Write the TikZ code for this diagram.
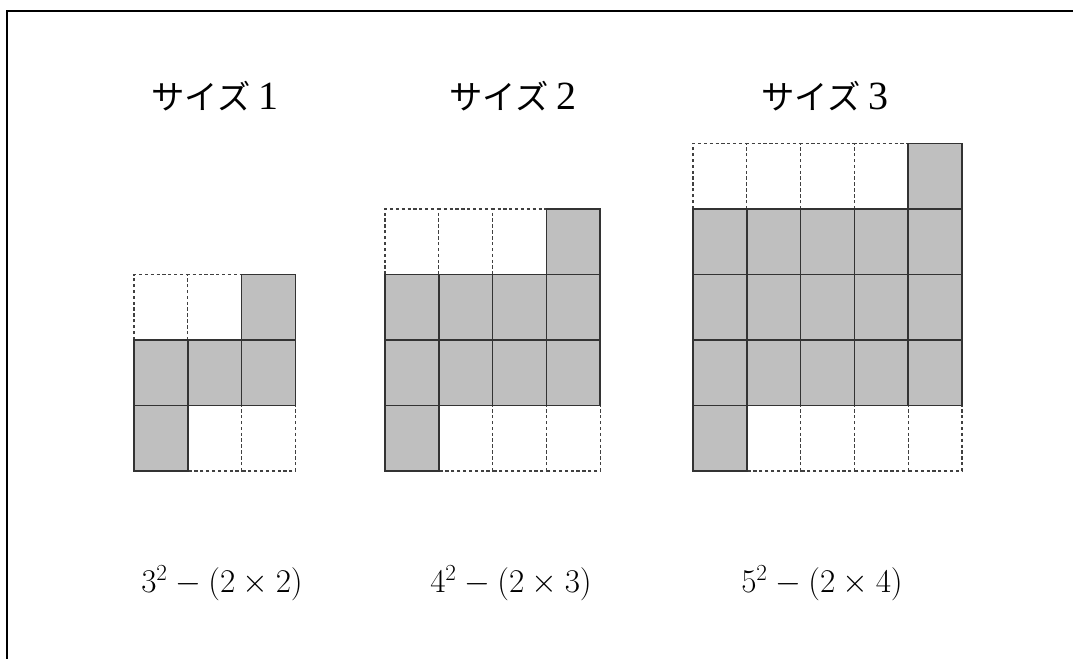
\documentclass[tikz,border=0pt]{standalone}
\usepackage{fontspec}
\usepackage{xcolor}
\usepackage{tikz}
\usetikzlibrary{positioning,calc}
\newfontfamily\jpfont{Noto Sans CJK JP}
\newfontfamily\numfont[Scale=1.2]{Liberation Serif}

\tikzset{
  fullcell/.style={fill=lightgray,draw=black!80,line width=1.2pt},
  emptycell/.style={draw=black!75,line width=1pt,dash pattern=on 2.4pt off 2pt},
  sizetitle/.style={font=\fontsize{25}{30}\selectfont},
  formula/.style={font=\fontsize{24}{28}\selectfont}
}

\begin{document}
\begin{tikzpicture}[x=0.75pt,y=-0.75pt]
  \useasboundingbox (0,0) rectangle (1073,659);
  \draw[line width=1.5pt] (7,659)--(7,11)--(1073,11);
  % size k : (k+2)x(k+2) cells, lower left corner at (lx,471)
  \foreach \k/\lx/\tx/\fx in {1/134/215/222,2/385/513/511,3/693/825/822}{
    \pgfmathtruncatemacro{\n}{\k+2}
    \pgfmathtruncatemacro{\m}{\k+1}
    \foreach \i in {1,...,\n}{
      \foreach \j in {1,...,\n}{
        \pgfmathtruncatemacro{\full}{(\j==1 && \i==1) || (\j==\n && \i==\n) || (\j>1 && \j<\n)}
        \ifnum\full=0
          \draw[emptycell] ({\lx+(\i-1)*53.8},{471-(\j-1)*65.5}) rectangle ++(53.8,-65.5);
        \fi
      }
    }
    \foreach \i in {1,...,\n}{
      \foreach \j in {1,...,\n}{
        \pgfmathtruncatemacro{\full}{(\j==1 && \i==1) || (\j==\n && \i==\n) || (\j>1 && \j<\n)}
        \ifnum\full=1
          \draw[fullcell] ({\lx+(\i-1)*53.8},{471-(\j-1)*65.5}) rectangle ++(53.8,-65.5);
        \fi
      }
    }
    \node[sizetitle] (title\k) at (\tx,96) {{\jpfont サイズ}\hspace{0.25em}{\numfont\k}};
    \node[formula] (expr\k) at (\fx,583) {$\n^{2}-(2\times\m)$};
  }
\end{tikzpicture}
\end{document}
